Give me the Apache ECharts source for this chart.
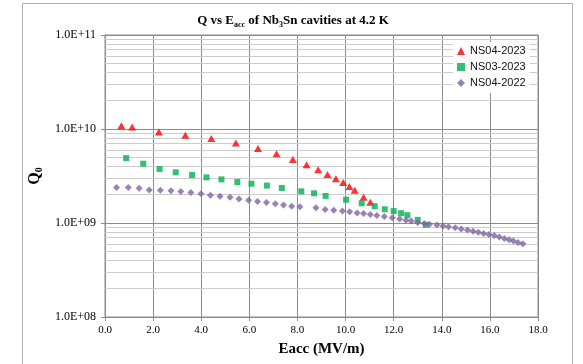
<!DOCTYPE html>
<html>
<head>
<meta charset="utf-8">
<script src="https://cdn.jsdelivr.net/npm/echarts@6/dist/echarts.min.js"></script>
<style>
html,body{margin:0;padding:0;background:#fff;}
#chart{width:583px;height:364px;}
</style>
</head>
<body>
<div id="chart"></div>
<script>
// ---- data ----
const seriesNames = ['NS04-2023', 'NS03-2023', 'NS04-2022'];

const ns04_2023_E = [0.68, 1.13, 2.24, 3.34, 4.42, 5.44, 6.36, 7.13, 7.81, 8.38, 8.86, 9.25, 9.60, 9.90, 10.16, 10.38, 10.75, 11.03];
const ns04_2023_Q = [1.08e10, 1.05e10, 9.3e9, 8.6e9, 7.9e9, 7.1e9, 6.2e9, 5.45e9, 4.74e9, 4.17e9, 3.69e9, 3.29e9, 2.96e9, 2.69e9, 2.44e9, 2.23e9, 1.88e9, 1.66e9];

const ns03_2023_E = [0.88, 1.59, 2.27, 2.94, 3.62, 4.22, 4.84, 5.50, 6.09, 6.73, 7.35, 8.16, 8.69, 9.17, 10.02, 10.67, 11.21, 11.63, 12.00, 12.31, 12.57, 13.00, 13.34];
const ns03_2023_Q = [4.9e9, 4.27e9, 3.75e9, 3.46e9, 3.24e9, 3.06e9, 2.91e9, 2.73e9, 2.62e9, 2.50e9, 2.36e9, 2.17e9, 2.07e9, 1.94e9, 1.77e9, 1.62e9, 1.51e9, 1.40e9, 1.34e9, 1.27e9, 1.21e9, 1.08e9, 0.957e9];

const ns04_2022_E = [0.48, 0.97, 1.42, 1.84, 2.30, 2.74, 3.15, 3.57, 3.99, 4.38, 4.78, 5.20, 5.57, 5.97, 6.34, 6.71, 7.08, 7.42, 7.76, 8.10, 8.77, 9.15, 9.51, 9.87, 10.17, 10.48, 10.75, 11.03, 11.30, 11.61, 11.94, 12.25, 12.51, 12.73, 13.00, 13.27, 13.49, 13.80, 14.05, 14.28, 14.56, 14.81, 15.07, 15.30, 15.52, 15.74, 15.96, 16.18, 16.39, 16.60, 16.80, 16.98, 17.17, 17.37];
const ns04_2022_Q = [2.38e9, 2.38e9, 2.34e9, 2.25e9, 2.23e9, 2.21e9, 2.16e9, 2.11e9, 2.05e9, 1.97e9, 1.93e9, 1.88e9, 1.80e9, 1.75e9, 1.69e9, 1.65e9, 1.60e9, 1.55e9, 1.51e9, 1.49e9, 1.45e9, 1.39e9, 1.37e9, 1.34e9, 1.32e9, 1.28e9, 1.26e9, 1.23e9, 1.20e9, 1.17e9, 1.14e9, 1.10e9, 1.07e9, 1.05e9, 1.01e9, 0.99e9, 0.97e9, 0.95e9, 0.93e9, 0.915e9, 0.89e9, 0.865e9, 0.84e9, 0.815e9, 0.795e9, 0.775e9, 0.755e9, 0.735e9, 0.71e9, 0.685e9, 0.665e9, 0.645e9, 0.62e9, 0.60e9];

const xTicks = [0, 2, 4, 6, 8, 10, 12, 14, 16, 18];
const yDecades = [8, 9, 10, 11];

// ---- build ----
function pairs(xs, ys) { return xs.map((x, i) => [x, ys[i]]); }
const minorLines = [];
for (let d = yDecades[0]; d < yDecades[yDecades.length - 1]; d++) {
  for (let k = 2; k <= 9; k++) minorLines.push({ yAxis: k * Math.pow(10, d) });
}

const serif = '"Liberation Serif", "Times New Roman", serif';
const chart = echarts.init(document.getElementById('chart'), null, { renderer: 'canvas' });
chart.setOption({
  animation: false,
  backgroundColor: '#fff',
  title: {
    text: '{b|Q vs E}{s|acc}{b| of Nb}{s|3}{b|Sn cavities at 4.2 K}',
    left: 288, top: 8, textAlign: 'center',
    textStyle: {
      rich: {
        b: { fontFamily: serif, fontWeight: 'bold', fontSize: 13, color: '#000', lineHeight: 16, verticalAlign: 'middle' },
        s: { fontFamily: serif, fontWeight: 'bold', fontSize: 8, color: '#000', lineHeight: 8, verticalAlign: 'bottom' }
      }
    }
  },
  graphic: [{
    type: 'rect', silent: true, z: -10,
    shape: { x: 22.5, y: 3.5, width: 550, height: 400 },
    style: { fill: 'none', stroke: '#b0b0b0', lineWidth: 1 }
  }],
  legend: {
    data: seriesNames,
    orient: 'vertical',
    left: 453, top: 42,
    padding: [3, 4, 4, 4],
    backgroundColor: '#fff',
    itemWidth: 8, itemHeight: 8, itemGap: 4,
    textStyle: { fontFamily: '"Liberation Sans", Arial, sans-serif', fontSize: 11, color: '#111', lineHeight: 12 }
  },
  grid: { left: 105, top: 35, width: 433, height: 282, show: true, borderColor: '#8c8c8c', borderWidth: 1, containLabel: false },
  xAxis: {
    type: 'value', min: 0, max: 18, interval: 2,
    name: 'Eacc (MV/m)', nameLocation: 'middle', nameGap: 25,
    nameTextStyle: { fontFamily: serif, fontWeight: 'bold', fontSize: 15, color: '#000' },
    axisLine: { show: true, lineStyle: { color: '#8c8c8c' } },
    axisTick: { show: true, length: 4, lineStyle: { color: '#8c8c8c' } },
    axisLabel: { fontFamily: serif, fontSize: 11, color: '#000', margin: 8, formatter: v => v.toFixed(1) },
    splitLine: { show: true, lineStyle: { color: '#8c8c8c', width: 1 } }
  },
  yAxis: {
    type: 'log', logBase: 10, min: 1e8, max: 1e11,
    name: '{q|Q}{s|0}', nameLocation: 'middle', nameGap: 60, nameRotate: 90,
    nameTextStyle: {
      rich: {
        q: { fontFamily: serif, fontWeight: 'bold', fontSize: 16, color: '#000', lineHeight: 18, verticalAlign: 'middle' },
        s: { fontFamily: serif, fontWeight: 'bold', fontSize: 10, color: '#000', lineHeight: 10, verticalAlign: 'bottom' }
      }
    },
    axisLine: { show: true, lineStyle: { color: '#8c8c8c' } },
    axisTick: { show: true, length: 4, lineStyle: { color: '#8c8c8c' } },
    axisLabel: {
      fontFamily: serif, fontSize: 12, color: '#000', margin: 9,
      formatter: v => { const e = Math.round(Math.log10(v)); return '1.0E+' + (e < 10 ? '0' + e : e); }
    },
    splitLine: { show: true, lineStyle: { color: '#8c8c8c', width: 1 } }
  },
  series: [
    {
      name: 'minor-grid', type: 'line', data: [], z: 1, silent: true,
      markLine: {
        silent: true, z: 1, symbol: ['none', 'none'], label: { show: false },
        lineStyle: { color: '#cccccc', type: 'solid', width: 1 },
        emphasis: { disabled: true },
        data: minorLines
      }
    },
    {
      name: seriesNames[0], type: 'scatter', symbol: 'triangle', symbolSize: [8, 7], z: 3,
      itemStyle: { color: '#ff0000' }, data: pairs(ns04_2023_E, ns04_2023_Q)
    },
    {
      name: seriesNames[1], type: 'scatter', symbol: 'rect', symbolSize: 6, z: 3,
      itemStyle: { color: '#00b050' }, data: pairs(ns03_2023_E, ns03_2023_Q)
    },
    {
      name: seriesNames[2], type: 'scatter', symbol: 'diamond', symbolSize: [7, 7], z: 3,
      itemStyle: { color: '#8064a2' }, data: pairs(ns04_2022_E, ns04_2022_Q)
    }
  ]
});
</script>
</body>
</html>
